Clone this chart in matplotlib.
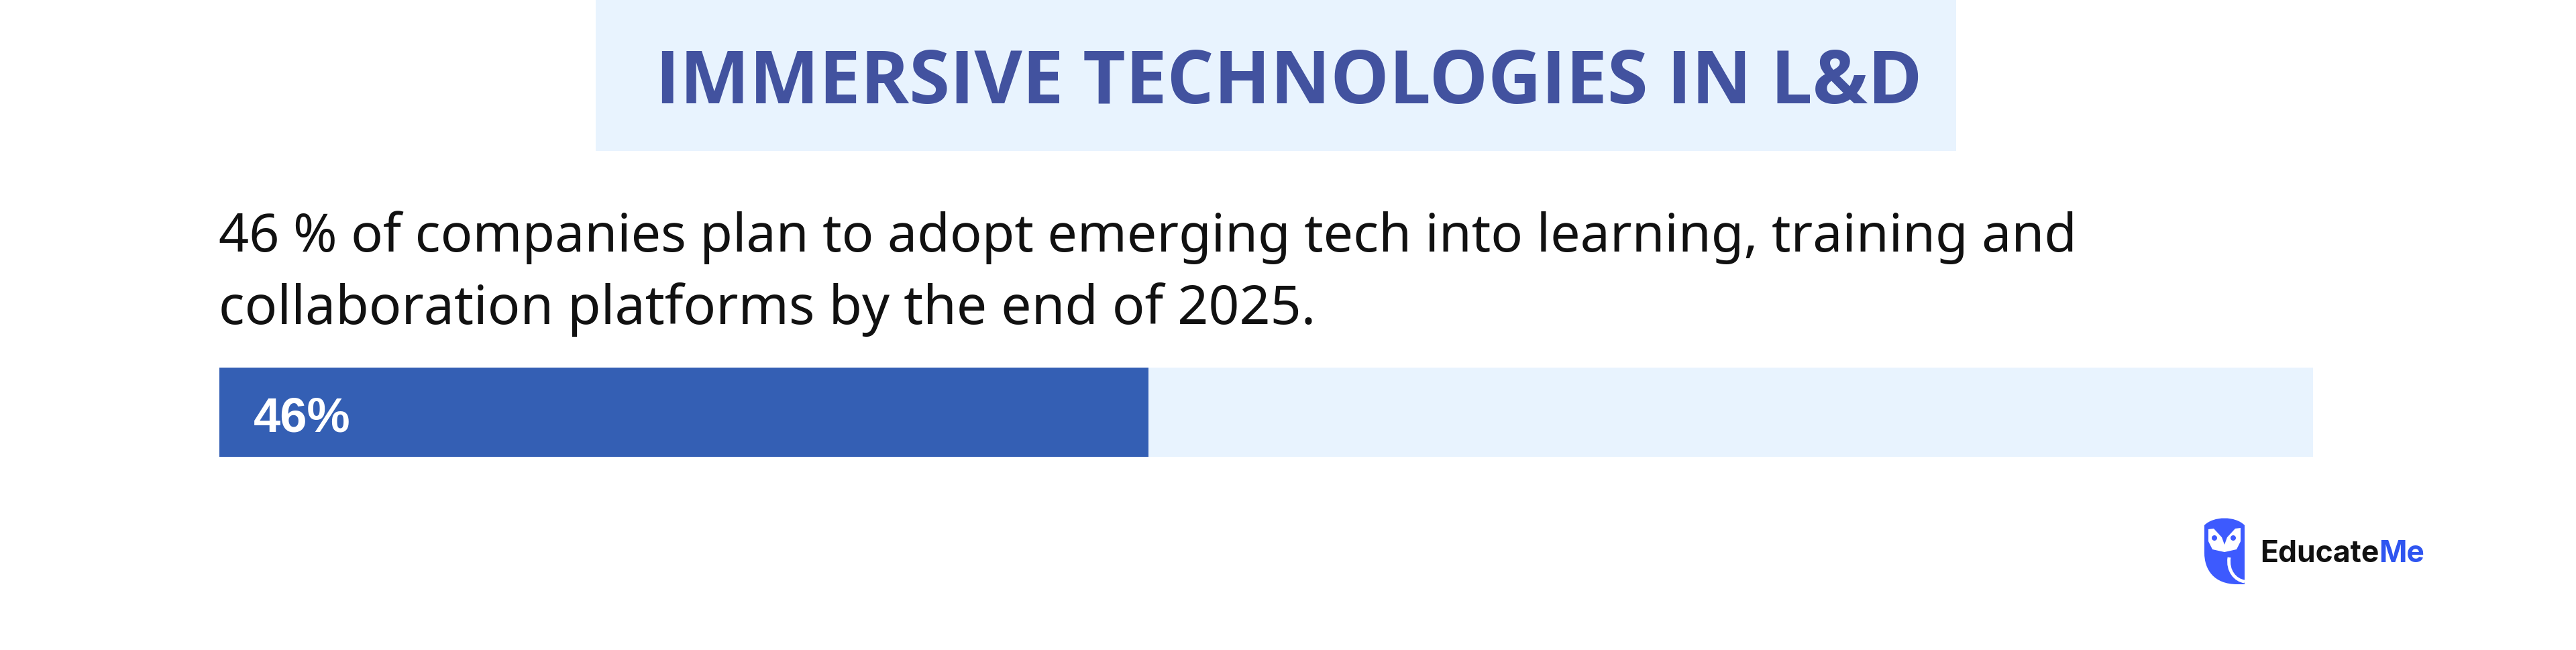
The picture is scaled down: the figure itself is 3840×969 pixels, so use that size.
import matplotlib
matplotlib.use("Agg")
import matplotlib.pyplot as plt
from matplotlib.patches import Rectangle, PathPatch, Ellipse
from matplotlib.path import Path

title = "IMMERSIVE TECHNOLOGIES IN L&D"
body_lines = ["46 % of companies plan to adopt emerging tech into learning, training and",
              "collaboration platforms by the end of 2025."]
share = 46
share_label = "46%"

W, H = 3840, 970
fig = plt.figure(figsize=(W / 100, H / 100), dpi=100, facecolor="white")

# full-figure layer in pixel units for the header, text and logo
bg = fig.add_axes([0, 0, 1, 1])
bg.set_xlim(0, W)
bg.set_ylim(H, 0)
bg.axis("off")

bg.add_patch(Rectangle((888, 0), 2028, 226, color="#e8f3fe", lw=0))
bg.text(977, 154, title, color="#42529f", fontsize=79.2, fontweight="bold",
        family="Open Sans", ha="left", va="baseline")

bg.text(326, 375, body_lines[0], color="#111111", fontsize=56.9, family="Noto Sans",
        ha="left", va="baseline")
bg.text(326, 483, body_lines[1], color="#111111", fontsize=58, family="Noto Sans",
        ha="left", va="baseline")

# progress bar, the axes background is the pale track
ax = fig.add_axes([327 / W, 1 - 682 / H, 3121 / W, 133 / H])
ax.set_facecolor("#e8f3fe")
ax.set_xlim(0, 103.66)
ax.set_ylim(0, 1)
ax.barh([0.5], [share], height=1, color="#345fb4")
ax.text(1.7, 0.293, share_label, color="white", fontsize=52, fontweight="bold",
        family="Liberation Sans", ha="left", va="baseline")
ax.set_xticks([])
ax.set_yticks([])
for s in ax.spines.values():
    s.set_visible(False)

# owl logo
blue = "#3d5afe"
verts = [(3286, 784), (3300, 770), (3332, 770), (3346, 784),
         (3346, 872), (3335, 872),
         (3300, 872), (3286, 850), (3286, 825), (3286, 784)]
codes = [Path.MOVETO, Path.CURVE4, Path.CURVE4, Path.CURVE4,
         Path.LINETO, Path.LINETO,
         Path.CURVE4, Path.CURVE4, Path.CURVE4, Path.CLOSEPOLY]
bg.add_patch(PathPatch(Path(verts, codes), color=blue, lw=0))
face = [(3292, 790), (3300, 789), (3312, 802), (3316, 813), (3320, 802), (3332, 789),
        (3340, 788), (3340, 808), (3334, 820), (3316, 824), (3298, 820), (3292, 808)]
bg.fill([p[0] for p in face], [p[1] for p in face], color="white", lw=0)
bg.add_patch(Ellipse((3301, 803), 8, 8, color=blue, lw=0))
bg.add_patch(Ellipse((3329, 803), 8, 8, color=blue, lw=0))
wing = Path([(3323, 832), (3320, 852), (3332, 866), (3346, 868)],
            [Path.MOVETO, Path.CURVE4, Path.CURVE4, Path.CURVE4])
bg.add_patch(PathPatch(wing, fc="none", ec="white", lw=3.5))

t1 = bg.text(3369, 838, "Educate", color="#111111", fontsize=32, fontweight="bold",
             family="Inter", ha="left", va="baseline")
fig.canvas.draw()
end = t1.get_window_extent().x1
bg.text(end, 838, "Me", color="#2f55f0", fontsize=32, fontweight="bold",
        family="Inter", ha="left", va="baseline")

fig.savefig("out.png", dpi=100, facecolor="white")
